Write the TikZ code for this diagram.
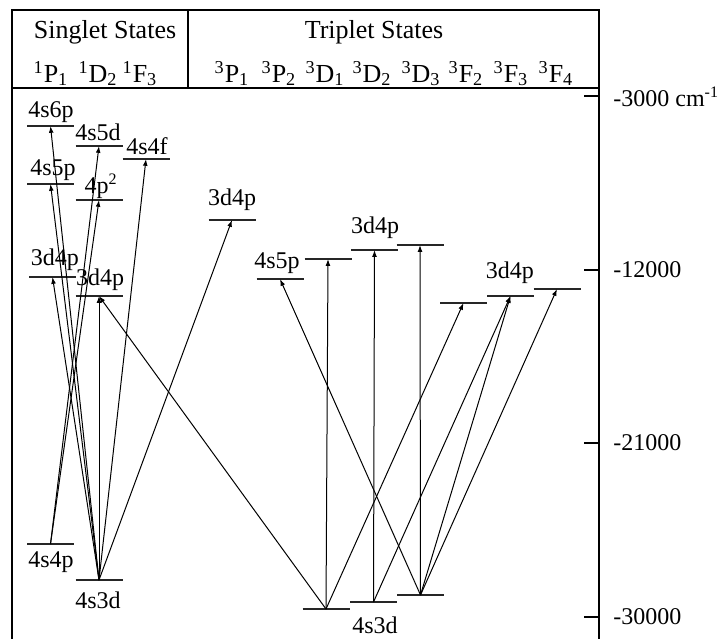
\documentclass[tikz,border=0pt]{standalone}
\usepackage{fontspec}
\setmainfont{Liberation Serif}
\usetikzlibrary{arrows.meta}
\newcommand{\term}[3]{\textsuperscript{#1}#2\textsubscript{#3}}

\begin{document}
\begin{tikzpicture}[x=0.5pt,y=-0.5pt,
  font=\fontsize{12}{14}\selectfont,
  frame/.style={line width=0.7pt},
  levelline/.style={line width=0.85pt,black!85},
  trans/.style={-{Latex[length=3.4pt,width=2.4pt]},line width=0.5pt},
  hdr/.style={font=\fontsize{13}{15}\selectfont,anchor=base}]
  \useasboundingbox (0,0) rectangle (725,639);
  % frame and header
  \draw[frame] (12,639) -- (12,10) -- (599,10) -- (599,639);
  \draw[frame] (12,88) -- (599,88);
  \draw[frame] (188,10) -- (188,88);
  \node[hdr] (singlet) at (105,38) {Singlet States};
  \node[hdr] (triplet) at (374,38) {Triplet States};
  \foreach \x/\s/\l/\j in {51/1/P/1, 98/1/D/2, 140/1/F/3,
      232/3/P/1, 279/3/P/2, 325/3/D/1, 372/3/D/2,
      421/3/D/3, 466/3/F/2, 511/3/F/3, 556/3/F/4}
    \node[hdr] (col\x) at (\x,82) {\term{\s}{\l}{\j}};
  % energy axis
  \draw[frame] (584,96) -- (599,96);
  \node[anchor=west,inner sep=1pt] (e3000) at (611,97)
    {-3000 cm\textsuperscript{\fontsize{8}{9}\selectfont -1}};
  \foreach \yy/\v in {270/12000, 443/21000, 617/30000} {
    \draw[frame] (584,\yy) -- (599,\yy);
    \node[anchor=west,inner sep=1pt] (e\v) at (611,\yy) {-\v};
  }
  % levels: name/centre/energy
  \foreach \n/\x/\y in {s4s6p/50.5/126, s4s5d/99/146, s4s4f/146/159,
      s4s5p/50.5/184, s4p2/99/200, s3d4pP/52.5/277, s3d4pD/99/296,
      s4s4p/50.5/544, s4s3d/99/580,
      t3d4pP1/232/220, t4s5pP2/280/279, tD1/328/259, t3d4pD2/374.5/250,
      tD3/420/245, tF2/463.5/303, t3d4pF3/510.5/296, tF4/557/289,
      t4s3dD1/326/609, t4s3dD2/373.5/602, t4s3dD3/420.5/595} {
    \coordinate (\n) at (\x,\y);
    \draw[levelline] (\x-23.5,\y) -- (\x+23.5,\y);
  }
  % level labels
  \node (l4s6p) at (51,112) {4s6p};
  \node (l4s5d) at (98,132) {4s5d};
  \node (l4s4f) at (147,146) {4s4f};
  \node (l4s5p) at (53,170) {4s5p};
  \node (l4p2) at (101,186) {4p\textsuperscript{2}};
  \node (l3d4pP) at (55,260) {3d4p};
  \node (l3d4pD) at (100,280) {3d4p};
  \node (l4s4p) at (51,562) {4s4p};
  \node (l4s3d) at (98,600) {4s3d};
  \node (l3d4pP1) at (232,200) {3d4p};
  \node (l4s5pP2) at (277,263) {4s5p};
  \node (l3d4pD2) at (375,228) {3d4p};
  \node (l3d4pF3) at (510,273) {3d4p};
  \node (l4s3dt) at (375,625) {4s3d};
  % transitions
  \foreach \a/\b in {s4s3d/s4s6p, s4s3d/s4s5p, s4s3d/s3d4pP, s4s3d/s3d4pD,
      s4s3d/s4s4f, s4s3d/t3d4pP1, s4s4p/s4s5d, s4s4p/s4p2,
      t4s3dD1/s3d4pD, t4s3dD1/tD1, t4s3dD1/tF2,
      t4s3dD2/t3d4pD2, t4s3dD2/t3d4pF3,
      t4s3dD3/tD3, t4s3dD3/t4s5pP2, t4s3dD3/t3d4pF3, t4s3dD3/tF4}
    \draw[trans] (\a) -- (\b);
\end{tikzpicture}
\end{document}
